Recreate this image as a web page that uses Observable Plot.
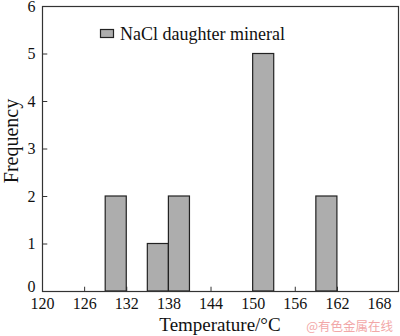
<!DOCTYPE html>
<html>
<head>
<meta charset="utf-8">
<script src="https://cdn.jsdelivr.net/npm/d3@7"></script>
<script src="https://cdn.jsdelivr.net/npm/@observablehq/plot@0.6"></script>
<style>
  html, body { margin: 0; padding: 0; background: #fff; }
  #chart svg { display: block; background: #fff; }
  #chart svg text { font-family: "Liberation Serif", "Times New Roman", serif; font-size: 16px; fill: #111; }
</style>
</head>
<body>
<div id="chart"></div>
<script>
// Data
const binStart = [129, 135, 138, 150, 159];
const binEnd   = [132, 138, 141, 153, 162];
const counts   = [2, 1, 2, 5, 2];
const xTicks = [120, 126, 132, 138, 144, 150, 156, 162, 168];
const yTicks = [0, 1, 2, 3, 4, 5, 6];
const seriesName = "NaCl daughter mineral";
const xLabel = "Temperature/\u00B0C";
const yLabel = "Frequency";
const watermark = "@有色金属在线";

const bins = binStart.map((s, i) => ({x1: s, x2: binEnd[i], y: counts[i]}));

const plot = Plot.plot({
  width: 400,
  height: 336,
  marginLeft: 42,
  marginRight: 2,
  marginTop: 6,
  marginBottom: 45,
  style: {background: "#fff"},
  x: {domain: [120, 170.7], label: null},
  y: {domain: [0, 6], label: null},
  marks: [
    Plot.axisX(xTicks, {tickFormat: d => String(d), tickSize: 0, tickPadding: 6, label: null}),
    Plot.axisY(yTicks.filter(d => d > 0), {tickFormat: d => String(d), tickSize: 0, tickPadding: 7, label: null}),
    Plot.axisY(yTicks.filter(d => d === 0), {tickFormat: d => String(d), tickSize: 0, tickPadding: 7, dy: -5, label: null}),
    Plot.ruleX(xTicks.slice(1, -1), {x: d => d, y1: 0, y2: 0.09, stroke: "#333"}),
    Plot.ruleY(yTicks.slice(1, -1), {y: d => d, x1: 120, x2: 120.75, stroke: "#333"}),
    Plot.rectY(bins, {x1: "x1", x2: "x2", y: "y", fill: "#adadad", stroke: "#222", strokeWidth: 1.2}),
    Plot.frame({stroke: "#333", strokeWidth: 1.2})
  ]
});

document.getElementById("chart").appendChild(plot);

const svg = d3.select(plot);
// axis titles
svg.append("text")
  .attr("x", 220).attr("y", 331)
  .attr("text-anchor", "middle")
  .style("font-size", "19px")
  .text(xLabel);
svg.append("text")
  .attr("transform", "translate(18,141) rotate(-90)")
  .attr("text-anchor", "middle")
  .style("font-size", "20px")
  .text(yLabel);
// legend
svg.append("rect")
  .attr("x", 100.5).attr("y", 29.5).attr("width", 13).attr("height", 8)
  .attr("fill", "#adadad").attr("stroke", "#222").attr("stroke-width", 1.2);
svg.append("text")
  .attr("x", 120).attr("y", 40)
  .attr("text-anchor", "start")
  .style("font-size", "18px")
  .text(seriesName);
// watermark
svg.append("text")
  .attr("x", 393).attr("y", 331)
  .attr("text-anchor", "end")
  .style("font-family", "'Noto Sans CJK SC', sans-serif")
  .style("font-size", "12.5px")
  .style("fill", "#f2a8a8")
  .text(watermark);
</script>
</body>
</html>
